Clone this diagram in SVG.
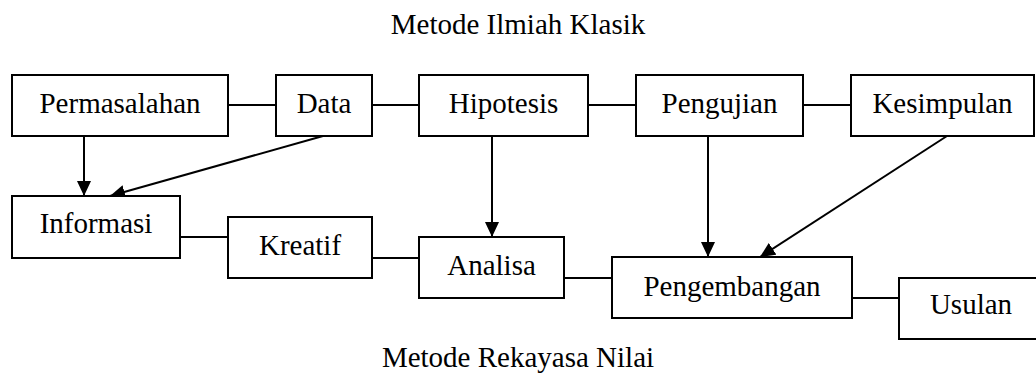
<svg xmlns="http://www.w3.org/2000/svg" width="1036" height="377" viewBox="0 0 1036 377">
<style>
  .box { fill: #fff; stroke: #000; stroke-width: 2; }
  .lbl { font-family: "Liberation Serif", "Times New Roman", serif; font-size: 29px; fill: #000; text-anchor: middle; }
  .ttl { font-family: "Liberation Serif", "Times New Roman", serif; font-size: 29px; fill: #000; text-anchor: middle; }
  .ln { stroke: #000; stroke-width: 2; fill: none; }
</style>
<defs>
  <marker id="arr" markerWidth="15" markerHeight="14" refX="15" refY="7" orient="auto" markerUnits="userSpaceOnUse">
    <path d="M0,0 L15,7 L0,14 Z" fill="#000"/>
  </marker>
</defs>
<rect width="1036" height="377" fill="#fff"/>
<text class="ttl" x="518" y="34">Metode Ilmiah Klasik</text>
<text class="ttl" x="518" y="367">Metode Rekayasa Nilai</text>
<g id="connectors">
  <line class="ln" x1="228" y1="105" x2="276" y2="105"/>
  <line class="ln" x1="372" y1="105" x2="419" y2="105"/>
  <line class="ln" x1="588" y1="105" x2="636" y2="105"/>
  <line class="ln" x1="803" y1="105" x2="851" y2="105"/>
  <line class="ln" x1="180" y1="237" x2="228" y2="237"/>
  <line class="ln" x1="372" y1="258" x2="419" y2="258"/>
  <line class="ln" x1="564" y1="278" x2="612" y2="278"/>
  <line class="ln" x1="852" y1="298" x2="899" y2="298"/>
  <line class="ln" x1="84" y1="136" x2="84" y2="196" marker-end="url(#arr)"/>
  <line class="ln" x1="323" y1="136" x2="110" y2="196" marker-end="url(#arr)"/>
  <line class="ln" x1="492" y1="136" x2="492" y2="237" marker-end="url(#arr)"/>
  <line class="ln" x1="708" y1="136" x2="708" y2="257" marker-end="url(#arr)"/>
  <line class="ln" x1="947" y1="136" x2="760" y2="257" marker-end="url(#arr)"/>
</g>
<g id="permasalahan"><rect class="box" x="12" y="75" width="216" height="61"/><text class="lbl" x="120" y="113">Permasalahan</text></g>
<g id="data"><rect class="box" x="276" y="75" width="96" height="61"/><text class="lbl" x="324" y="113">Data</text></g>
<g id="hipotesis"><rect class="box" x="419" y="75" width="169" height="61"/><text class="lbl" x="503.5" y="113">Hipotesis</text></g>
<g id="pengujian"><rect class="box" x="636" y="75" width="167" height="61"/><text class="lbl" x="719.5" y="113">Pengujian</text></g>
<g id="kesimpulan"><rect class="box" x="851" y="75" width="183" height="61"/><text class="lbl" x="942.5" y="113">Kesimpulan</text></g>
<g id="informasi"><rect class="box" x="12" y="196" width="168" height="62"/><text class="lbl" x="96" y="233">Informasi</text></g>
<g id="kreatif"><rect class="box" x="228" y="217" width="144" height="61"/><text class="lbl" x="300" y="255">Kreatif</text></g>
<g id="analisa"><rect class="box" x="419" y="237" width="145" height="61"/><text class="lbl" x="491.5" y="275">Analisa</text></g>
<g id="pengembangan"><rect class="box" x="612" y="257" width="240" height="61"/><text class="lbl" x="732" y="296">Pengembangan</text></g>
<g id="usulan"><rect class="box" x="899" y="278" width="144" height="61"/><text class="lbl" x="971" y="314">Usulan</text></g>
</svg>
